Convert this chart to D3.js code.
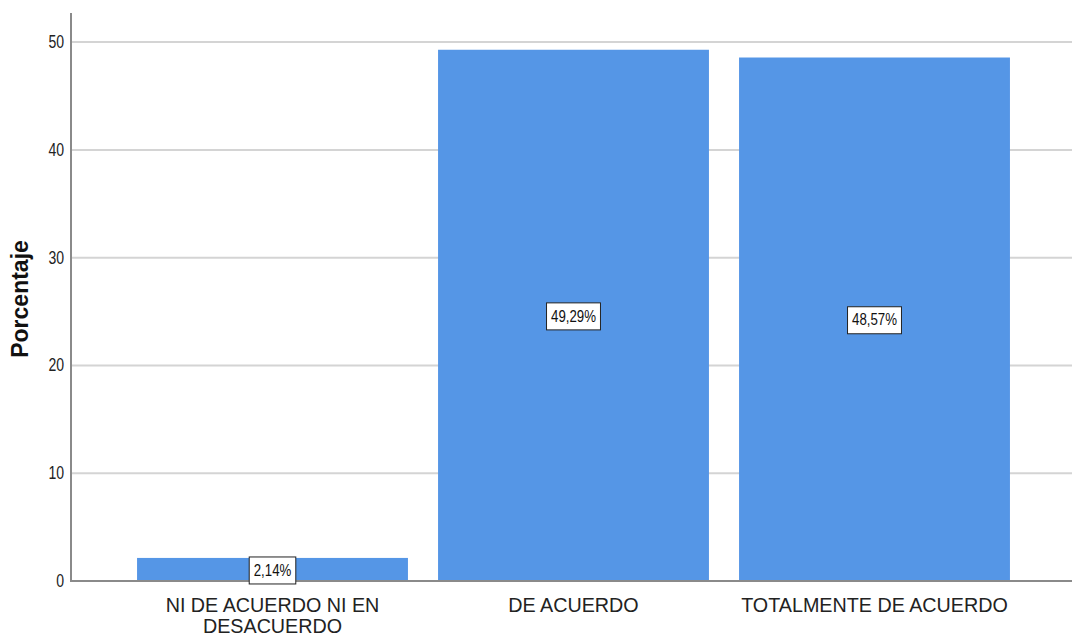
<!DOCTYPE html>
<html>
<head>
<meta charset="utf-8">
<script src="https://cdn.jsdelivr.net/npm/d3@7"></script>
<style>
  body { margin: 0; background: #fff; }
  svg { display: block; font-family: Arial, "Liberation Sans", sans-serif; }
</style>
</head>
<body>
<div id="chart"></div>
<script>
const categories = ["NI DE ACUERDO NI EN DESACUERDO", "DE ACUERDO", "TOTALMENTE DE ACUERDO"];
const categoryLines = [["NI DE ACUERDO NI EN", "DESACUERDO"], ["DE ACUERDO"], ["TOTALMENTE DE ACUERDO"]];
const percents = [2.14, 49.29, 48.57];
const percentLabels = ["2,14%", "49,29%", "48,57%"];
const yTicks = [0, 10, 20, 30, 40, 50];

const width = 1072, height = 637;
const margin = {left: 71, right: 0, top: 13, bottom: 56};
const sx = 0.78; // glyphs in the reference are horizontally narrow

const svg = d3.select("#chart").append("svg")
    .attr("width", width)
    .attr("height", height);

let x = d3.scaleBand()
    .domain(categories)
    .range([122, 1025])
    .paddingInner(0.1)
    .paddingOuter(0.05);

let y = d3.scaleLinear()
    .domain([0, 52.7])
    .range([height - margin.bottom, margin.top]);

// gridlines
svg.append("g")
    .selectAll("line")
    .data(yTicks.filter(d => d > 0))
    .join("line")
    .attr("x1", margin.left)
    .attr("x2", width)
    .attr("y1", d => y(d))
    .attr("y2", d => y(d))
    .attr("stroke", "#d4d4d4")
    .attr("stroke-width", 2);

// y tick labels
svg.append("g")
    .selectAll("text")
    .data(yTicks)
    .join("text")
    .attr("transform", d => `translate(${margin.left - 7}, ${y(d) + 6}) scale(${sx},1)`)
    .attr("text-anchor", "end")
    .attr("font-size", 18)
    .attr("fill", "#222")
    .text(d => d);

// bars
svg.append("g")
    .selectAll("rect")
    .data(percents)
    .join("rect")
    .attr("x", (d, i) => x(categories[i]))
    .attr("y", d => y(d))
    .attr("width", x.bandwidth())
    .attr("height", d => y(0) - y(d))
    .attr("fill", "#5596e6");

// axes
svg.append("line")
    .attr("x1", margin.left).attr("x2", margin.left)
    .attr("y1", margin.top).attr("y2", y(0) + 1)
    .attr("stroke", "#8a8a8a").attr("stroke-width", 2);
svg.append("line")
    .attr("x1", margin.left).attr("x2", width)
    .attr("y1", y(0)).attr("y2", y(0))
    .attr("stroke", "#8a8a8a").attr("stroke-width", 2);

// value labels
let labels = svg.append("g")
    .selectAll("g")
    .data(percents)
    .join("g")
    .attr("transform", (d, i) => `translate(${x(categories[i]) + x.bandwidth() / 2}, ${y(d / 2)})`);
labels.append("text")
    .attr("transform", `scale(${sx},1)`)
    .attr("text-anchor", "middle")
    .attr("dy", "0.36em")
    .attr("font-size", 17)
    .attr("fill", "#111")
    .text((d, i) => percentLabels[i]);
labels.each(function () {
    let g = d3.select(this);
    let bb = g.select("text").node().getBBox();
    let w = bb.width * sx + 9, h = 27;
    g.insert("rect", "text")
        .attr("x", -w / 2).attr("y", -h / 2 + 1)
        .attr("width", w).attr("height", h)
        .attr("fill", "#fff")
        .attr("stroke", "#222")
        .attr("stroke-width", 1);
});

// category labels
svg.append("g")
    .selectAll("g")
    .data(categories)
    .join("g")
    .attr("transform", d => `translate(${x(d) + x.bandwidth() / 2}, 612) scale(0.94,1)`)
    .each(function (d, i) {
        d3.select(this).selectAll("text")
            .data(categoryLines[i])
            .join("text")
            .attr("y", (t, j) => j * 21)
            .attr("text-anchor", "middle")
            .attr("font-size", 21)
            .attr("fill", "#222")
            .text(t => t);
    });

// y axis title
svg.append("text")
    .attr("transform", `translate(28, ${(margin.top + y(0)) / 2 + 2}) rotate(-90)`)
    .attr("text-anchor", "middle")
    .attr("font-size", 23)
    .attr("font-weight", "bold")
    .attr("fill", "#111")
    .text("Porcentaje");
</script>
</body>
</html>
